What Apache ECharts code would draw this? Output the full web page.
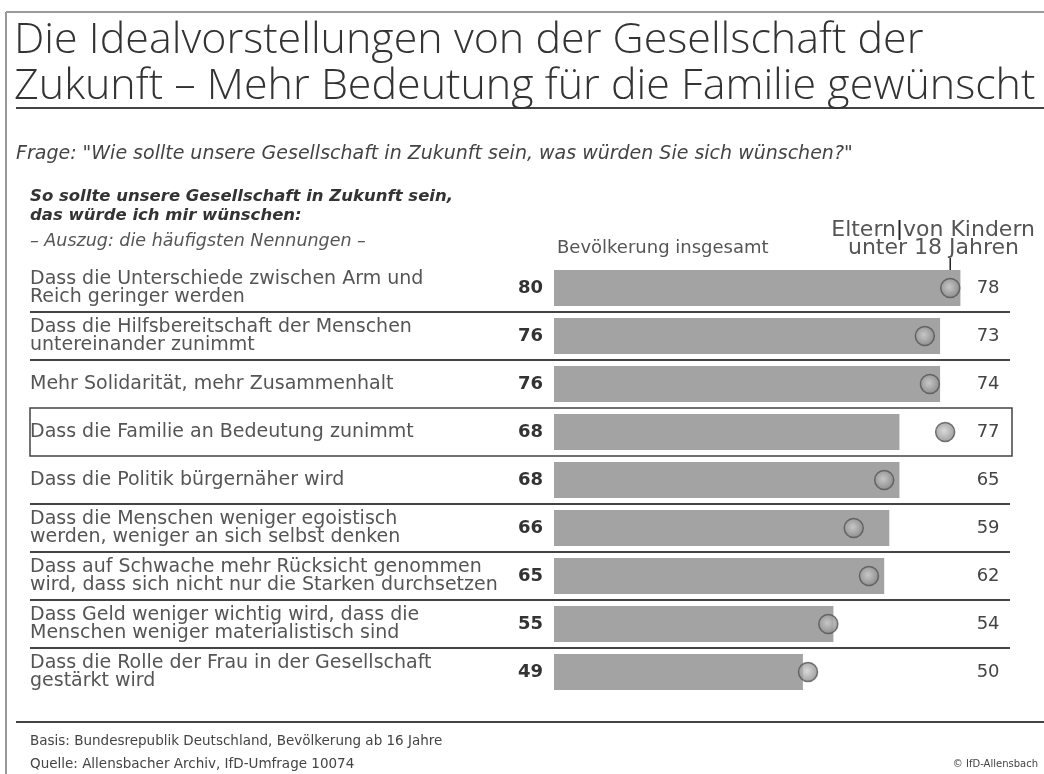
<!DOCTYPE html>
<html>
<head>
<meta charset="utf-8">
<script src="https://cdn.jsdelivr.net/npm/echarts@6/dist/echarts.min.js"></script>
<style>
  html, body { margin: 0; padding: 0; background: #fff; }
  #chart { width: 1044px; height: 774px; }
</style>
</head>
<body>
<div id="chart"></div>
<script>
const statements = [
  "Dass die Unterschiede zwischen Arm und\nReich geringer werden",
  "Dass die Hilfsbereitschaft der Menschen\nuntereinander zunimmt",
  "Mehr Solidarität, mehr Zusammenhalt",
  "Dass die Familie an Bedeutung zunimmt",
  "Dass die Politik bürgernäher wird",
  "Dass die Menschen weniger egoistisch\nwerden, weniger an sich selbst denken",
  "Dass auf Schwache mehr Rücksicht genommen\nwird, dass sich nicht nur die Starken durchsetzen",
  "Dass Geld weniger wichtig wird, dass die\nMenschen weniger materialistisch sind",
  "Dass die Rolle der Frau in der Gesellschaft\ngestärkt wird"
];
const population = [80, 76, 76, 68, 68, 66, 65, 55, 49];
const parents = [78, 73, 74, 77, 65, 59, 62, 54, 50];
const highlightIndex = 3;

const chart = echarts.init(document.getElementById("chart"), null, { renderer: "canvas" });

const gridLeft = 554, gridTop = 264, band = 48;
const rows = statements.length;
const xMax = 83;
const gridWidth = 5.08 * xMax;
const font = "DejaVu Sans";
const textGray = "#555";

// where "Eltern | von Kindern" gets its little divider
const legendFont = "22px " + font;
const ctx = document.createElement("canvas").getContext("2d");
ctx.font = legendFont;
const dividerX = 1035 - ctx.measureText("von Kindern").width - ctx.measureText(" ").width / 2;

const graphics = [
  // frame
  { type: "line", shape: { x1: 6, y1: 12, x2: 1044, y2: 12 }, style: { stroke: "#999", lineWidth: 2 } },
  { type: "line", shape: { x1: 6, y1: 12, x2: 6, y2: 774 }, style: { stroke: "#999", lineWidth: 2 } },
  { type: "line", shape: { x1: 16, y1: 108, x2: 1044, y2: 108 }, style: { stroke: "#444", lineWidth: 2 } },
  { type: "line", shape: { x1: 16, y1: 722, x2: 1044, y2: 722 }, style: { stroke: "#444", lineWidth: 2 } },
  // headings
  { type: "text", left: 14, top: 18, style: { text: "Die Idealvorstellungen von der Gesellschaft der\nZukunft – Mehr Bedeutung für die Familie gewünscht", font: "300 43px 'Open Sans'", lineHeight: 46, fill: "#333" } },
  { type: "text", left: 16, top: 145, style: { text: "Frage: \"Wie sollte unsere Gesellschaft in Zukunft sein, was würden Sie sich wünschen?\"", font: "italic 19px " + font, fill: "#444" } },
  { type: "text", left: 30, top: 187, style: { text: "So sollte unsere Gesellschaft in Zukunft sein,\ndas würde ich mir wünschen:", font: "italic bold 16.5px " + font, lineHeight: 19, fill: "#333" } },
  { type: "text", left: 30, top: 232, style: { text: "– Auszug: die häufigsten Nennungen –", font: "italic 17.5px " + font, fill: "#555" } },
  { type: "text", left: 557, top: 239, style: { text: "Bevölkerung insgesamt", font: "18px " + font, fill: "#555" } },
  { type: "text", x: 1035, y: 230, style: { text: "Eltern von Kindern", font: legendFont, align: "right", verticalAlign: "middle", fill: "#555" } },
  { type: "text", x: 1019, y: 248, style: { text: "unter 18 Jahren", font: legendFont, align: "right", verticalAlign: "middle", fill: "#555" } },
  { type: "line", shape: { x1: dividerX, y1: 220, x2: dividerX, y2: 240 }, style: { stroke: "#222", lineWidth: 2 } },
  { type: "text", left: 563, top: 281, style: { text: "%", font: "bold 12px " + font, fill: "#444" } },
  // footer
  { type: "text", left: 30, top: 734, style: { text: "Basis: Bundesrepublik Deutschland, Bevölkerung ab 16 Jahre", font: "13.5px " + font, fill: "#444" } },
  { type: "text", left: 30, top: 757, style: { text: "Quelle: Allensbacher Archiv, IfD-Umfrage 10074", font: "13.5px " + font, fill: "#444" } },
  { type: "text", right: 6, top: 759, style: { text: "© IfD-Allensbach", font: "10px " + font, fill: "#444" } }
];

// row separators and the highlighted row box
for (let i = 1; i < rows; i++) {
  const y = gridTop + i * band;
  if (i === highlightIndex || i === highlightIndex + 1) continue;
  graphics.push({ type: "line", shape: { x1: 30, y1: y, x2: 1010, y2: y }, style: { stroke: "#444", lineWidth: 2 } });
}
graphics.push({
  type: "rect",
  shape: { x: 30, y: gridTop + highlightIndex * band, width: 982, height: band },
  style: { fill: "none", stroke: "#444", lineWidth: 1.5 }
});

const circleFill = new echarts.graphic.RadialGradient(0.45, 0.45, 0.6, [
  { offset: 0, color: "#d0d0d0" },
  { offset: 1, color: "#808080" }
]);

chart.setOption({
  backgroundColor: "#fff",
  animation: false,
  grid: { left: gridLeft, top: gridTop, width: gridWidth, height: rows * band },
  xAxis: { type: "value", min: 0, max: xMax, show: false },
  yAxis: [
    {
      type: "category",
      data: statements,
      inverse: true,
      axisLine: { show: false },
      axisTick: { show: false },
      axisLabel: {
        align: "left",
        margin: gridLeft - 30,
        fontFamily: font,
        fontSize: 19,
        lineHeight: 17.5,
        color: textGray
      }
    },
    {
      type: "category",
      data: parents.map(String),
      inverse: true,
      position: "right",
      axisLine: { show: false },
      axisTick: { show: false },
      axisLabel: {
        align: "left",
        margin: 1,
        fontFamily: font,
        fontSize: 18,
        color: "#444"
      }
    }
  ],
  series: [
    {
      name: "Bevölkerung insgesamt",
      type: "bar",
      data: population,
      barWidth: 36,
      itemStyle: { color: "#a3a3a3" },
      label: {
        show: true,
        position: "left",
        distance: 11,
        fontFamily: font,
        fontWeight: "bold",
        fontSize: 18,
        color: "#333"
      },
      z: 2
    },
    {
      name: "Eltern von Kindern unter 18 Jahren",
      type: "scatter",
      data: parents,
      symbol: "circle",
      symbolSize: 19,
      itemStyle: { color: circleFill, borderColor: "#555", borderWidth: 1.5 },
      z: 3
    }
  ],
  graphic: graphics
});

// pointer from the legend text down to the first marker
const p = chart.convertToPixel({ seriesIndex: 1 }, [parents[0], 0]);
chart.setOption({
  graphic: graphics.concat([
    { type: "line", shape: { x1: p[0], y1: 258, x2: p[0], y2: p[1] }, style: { stroke: "#222", lineWidth: 1.5 } }
  ])
});
</script>
</body>
</html>
